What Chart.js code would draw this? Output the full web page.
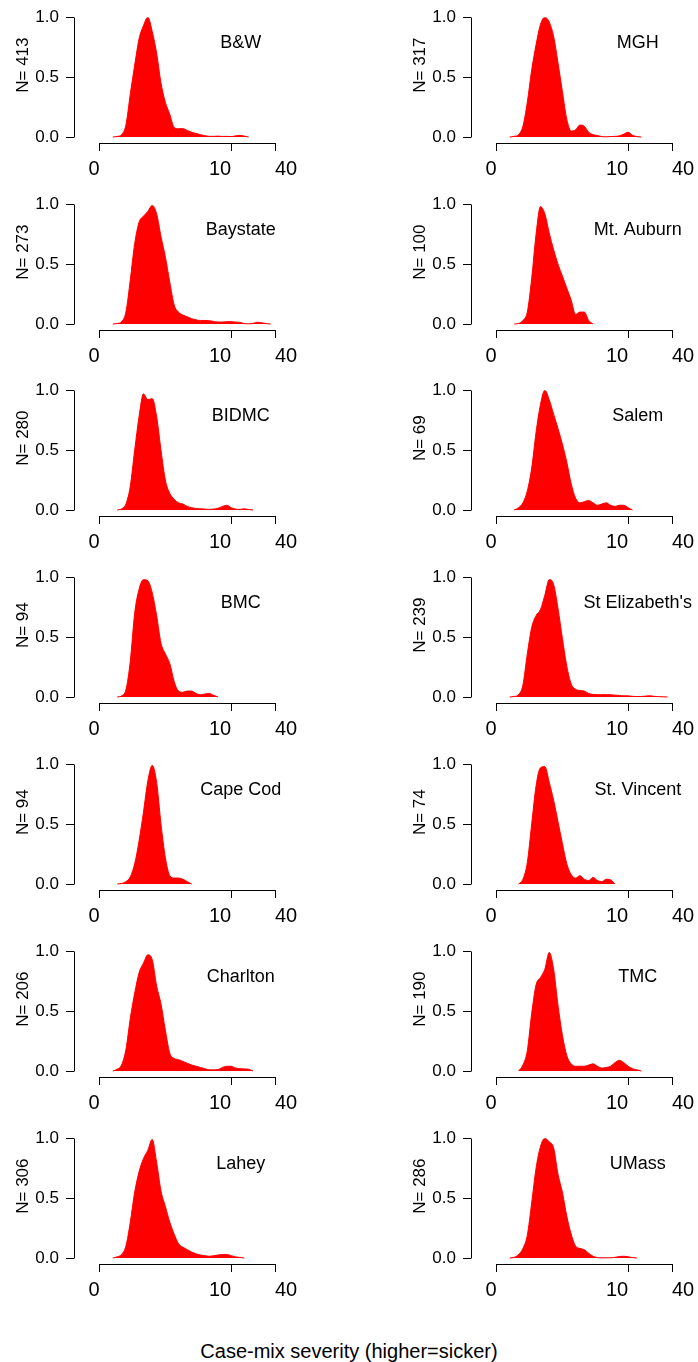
<!DOCTYPE html>
<html>
<head>
<meta charset="utf-8">
<title>Case-mix severity by hospital</title>
<script src="https://cdn.jsdelivr.net/npm/chart.js@4.4.1/dist/chart.umd.min.js"></script>
<style>
  html, body { margin: 0; padding: 0; background: #fff; }
  #wrap { position: relative; width: 698px; height: 1362px; overflow: hidden; }
  .panel { position: absolute; }
  #xtitle {
    position: absolute; left: 0; width: 698px; top: 1340px;
    text-align: center; line-height: 20px;
    font: 20px "Liberation Sans", Arial, sans-serif; color: #000;
  }
</style>
</head>
<body>
<div id="wrap">
  <div id="xtitle">Case-mix severity (higher=sicker)</div>
</div>
<script>
// axis units: the original x axis is compressed (0 -> 0, 10 -> 3, 40 -> 4)
const severityPos = [0.3, 0.4, 0.5, 0.6, 0.7, 0.8, 0.9, 1.0, 1.1, 1.2,
  1.3, 1.4, 1.5, 1.6, 1.7, 1.8, 1.9, 2.0, 2.1, 2.2,
  2.3, 2.4, 2.5, 2.6, 2.7, 2.8, 2.9, 3.0, 3.1, 3.2,
  3.3, 3.4, 3.5, 3.6, 3.7, 3.8, 3.9, 4.0];
const xTickPos = [0, 3, 4];
const xTickLabels = ['0', '10', '40'];
const yTickPos = [0, 0.5, 1];
const yTickLabels = ['0.0', '0.5', '1.0'];

const hospitals = ['B&W', 'Baystate', 'BIDMC', 'BMC', 'Cape Cod', 'Charlton', 'Lahey',
  'MGH', 'Mt. Auburn', 'Salem', "St Elizabeth's", 'St. Vincent', 'TMC', 'UMass'];
const caseCounts = [413, 273, 280, 94, 94, 206, 306, 317, 100, 69, 239, 74, 190, 286];

// scaled densities (peak = 1), one value per severityPos, null = outside the curve
const dBW = [0, 0.005, 0.02, 0.1, 0.36, 0.6, 0.82, 0.93, 1.0, 0.88,
  0.7, 0.45, 0.29, 0.19, 0.08, 0.07, 0.07, 0.055, 0.04, 0.03,
  0.02, 0.012, 0.006, 0.006, 0.008, 0.005, 0.006, 0.004, 0.01, 0.014,
  0.008, 0, null, null, null, null, null, null];
const dBaystate = [0, 0.005, 0.02, 0.1, 0.37, 0.67, 0.85, 0.9, 0.94, 0.99,
  0.92, 0.73, 0.56, 0.35, 0.16, 0.1, 0.075, 0.06, 0.045, 0.035,
  0.03, 0.03, 0.028, 0.022, 0.017, 0.017, 0.02, 0.02, 0.017, 0.014,
  0.004, 0.002, 0.006, 0.015, 0.01, 0.004, 0, null];
const dBIDMC = [null, 0, 0.01, 0.05, 0.2, 0.5, 0.78, 0.97, 0.92, 0.93,
  0.78, 0.5, 0.25, 0.14, 0.09, 0.06, 0.05, 0.03, 0.02, 0.012,
  0.01, 0.008, 0.006, 0.008, 0.015, 0.03, 0.04, 0.02, 0.008, 0.006,
  0.01, 0.005, 0, null, null, null, null, null];
const dBMC = [null, 0, 0.01, 0.06, 0.3, 0.7, 0.9, 0.98, 0.97, 0.87,
  0.68, 0.45, 0.36, 0.28, 0.13, 0.05, 0.04, 0.05, 0.05, 0.03,
  0.02, 0.025, 0.03, 0.015, 0, null, null, null, null, null,
  null, null, null, null, null, null, null, null];
const dCapeCod = [null, 0, 0.005, 0.02, 0.06, 0.17, 0.36, 0.6, 0.86, 0.99,
  0.85, 0.5, 0.22, 0.07, 0.05, 0.05, 0.04, 0.02, 0, null,
  null, null, null, null, null, null, null, null, null, null,
  null, null, null, null, null, null, null, null];
const dCharlton = [0, 0.015, 0.05, 0.18, 0.44, 0.65, 0.82, 0.9, 0.97, 0.93,
  0.71, 0.56, 0.34, 0.15, 0.105, 0.095, 0.08, 0.065, 0.05, 0.04,
  0.03, 0.02, 0.01, 0.01, 0.012, 0.03, 0.04, 0.04, 0.025, 0.02,
  0.018, 0.015, 0, null, null, null, null, null];
const dLahey = [0, 0.01, 0.03, 0.1, 0.3, 0.55, 0.72, 0.83, 0.9, 0.99,
  0.8, 0.56, 0.43, 0.3, 0.2, 0.12, 0.09, 0.07, 0.05, 0.035,
  0.025, 0.02, 0.015, 0.02, 0.025, 0.03, 0.03, 0.02, 0.01, 0.005,
  0, null, null, null, null, null, null, null];
const dMGH = [0, 0.006, 0.02, 0.09, 0.29, 0.56, 0.77, 0.94, 1.0, 0.96,
  0.84, 0.62, 0.38, 0.15, 0.05, 0.06, 0.1, 0.09, 0.04, 0.02,
  0.013, 0.004, 0.002, 0.004, 0.006, 0.01, 0.025, 0.04, 0.015, 0.004,
  0, null, null, null, null, null, null, null];
const dMtAuburn = [null, 0, 0.005, 0.03, 0.1, 0.38, 0.75, 0.98, 0.92, 0.76,
  0.62, 0.5, 0.4, 0.3, 0.2, 0.08, 0.1, 0.1, 0.03, 0,
  null, null, null, null, null, null, null, null, null, null,
  null, null, null, null, null, null, null, null];
const dSalem = [null, 0, 0.02, 0.06, 0.16, 0.35, 0.65, 0.88, 1.0, 0.92,
  0.8, 0.68, 0.55, 0.4, 0.22, 0.1, 0.06, 0.07, 0.08, 0.06,
  0.04, 0.05, 0.06, 0.04, 0.03, 0.04, 0.04, 0.02, 0, null,
  null, null, null, null, null, null, null, null];
const dStElizabeths = [0, 0.005, 0.02, 0.1, 0.36, 0.58, 0.68, 0.73, 0.85, 0.98,
  0.94, 0.74, 0.49, 0.26, 0.11, 0.065, 0.055, 0.05, 0.03, 0.022,
  0.02, 0.02, 0.02, 0.02, 0.016, 0.014, 0.01, 0.01, 0.006, 0.004,
  0.005, 0.008, 0.01, 0.006, 0.003, 0.002, 0, null];
const dStVincent = [null, null, 0, 0.04, 0.18, 0.5, 0.82, 0.97, 0.98, 0.85,
  0.7, 0.52, 0.34, 0.17, 0.08, 0.05, 0.07, 0.04, 0.03, 0.055,
  0.03, 0.02, 0.04, 0.035, 0, null, null, null, null, null,
  null, null, null, null, null, null, null, null];
const dTMC = [null, null, 0, 0.05, 0.17, 0.48, 0.72, 0.78, 0.85, 0.99,
  0.85, 0.55, 0.3, 0.13, 0.06, 0.04, 0.04, 0.04, 0.05, 0.06,
  0.04, 0.025, 0.03, 0.04, 0.07, 0.09, 0.07, 0.04, 0.02, 0.01,
  0, null, null, null, null, null, null, null];
const dUMass = [0, 0.006, 0.03, 0.08, 0.19, 0.46, 0.75, 0.93, 1.0, 0.97,
  0.92, 0.7, 0.55, 0.35, 0.2, 0.1, 0.08, 0.07, 0.04, 0.015,
  0.004, 0.002, 0.002, 0.002, 0.006, 0.013, 0.015, 0.01, 0.004, 0,
  null, null, null, null, null, null, null, null];

const densities = [dBW, dBaystate, dBIDMC, dBMC, dCapeCod, dCharlton, dLahey,
  dMGH, dMtAuburn, dSalem, dStElizabeths, dStVincent, dTMC, dUMass];

const FONT = '"Liberation Sans", Arial, sans-serif';
Chart.defaults.font.family = FONT;
Chart.defaults.color = '#000';

// align like Chart.js does for 1px lines
function crisp(p) {
  return Math.round(p - 0.5) + 0.5;
}

// R-style detached axes, tick labels and panel text
const panelDecor = {
  id: 'panelDecor',
  afterDraw(chart, args, opts) {
    const { ctx, chartArea } = chart;
    const xs = chart.scales.x;
    const ys = chart.scales.y;
    ctx.save();
    ctx.strokeStyle = '#000';
    ctx.lineWidth = 1;
    ctx.beginPath();
    const ax = crisp(chartArea.left);
    ctx.moveTo(ax, crisp(ys.getPixelForValue(yTickPos[0])));
    ctx.lineTo(ax, crisp(ys.getPixelForValue(yTickPos[yTickPos.length - 1])));
    const ay = crisp(chartArea.bottom);
    ctx.moveTo(crisp(xs.getPixelForValue(xTickPos[0])), ay);
    ctx.lineTo(crisp(xs.getPixelForValue(xTickPos[xTickPos.length - 1])), ay);
    ctx.stroke();

    ctx.fillStyle = '#000';
    ctx.textBaseline = 'alphabetic';
    ctx.font = '20px ' + FONT;
    xTickPos.forEach((v, k) => {
      ctx.textAlign = k === xTickPos.length - 1 ? 'left' : 'right';
      ctx.fillText(xTickLabels[k], xs.getPixelForValue(v), chartArea.bottom + 32);
    });

    ctx.font = '18px ' + FONT;
    ctx.textAlign = 'center';
    ctx.fillText(opts.name, xs.getPixelForValue(3.22), ys.getPixelForValue(1) + 31);

    ctx.translate(28, ys.getPixelForValue(0.6));
    ctx.rotate(-Math.PI / 2);
    ctx.font = '17px ' + FONT;
    ctx.textAlign = 'center';
    ctx.fillText('N= ' + opts.n, 0, 0);
    ctx.restore();
  }
};

const colLeft = [0, 397];
const rowTop = [0, 187, 373, 560, 747, 934, 1121];
const wrap = document.getElementById('wrap');

hospitals.forEach((name, i) => {
  const col = i < 7 ? 0 : 1;
  const row = i % 7;
  const cv = document.createElement('canvas');
  cv.className = 'panel';
  cv.width = 301;
  cv.height = 187;
  cv.style.width = '301px';
  cv.style.height = '187px';
  cv.style.left = colLeft[col] + 'px';
  cv.style.top = rowTop[row] + 'px';
  wrap.appendChild(cv);

  const pts = severityPos.map((u, k) => ({ x: u, y: densities[i][k] }));

  new Chart(cv, {
    type: 'line',
    data: {
      datasets: [{
        data: pts,
        borderColor: '#ff0000',
        backgroundColor: '#ff0000',
        borderWidth: 1,
        fill: 'origin',
        pointRadius: 0,
        cubicInterpolationMode: 'monotone',
        spanGaps: false
      }]
    },
    options: {
      responsive: false,
      animation: false,
      devicePixelRatio: 1,
      layout: { padding: { top: 16, right: 26, left: 0, bottom: 0 } },
      plugins: {
        legend: { display: false },
        tooltip: { enabled: false },
        panelDecor: { name: name, n: caseCounts[i] }
      },
      scales: {
        x: {
          type: 'linear',
          min: -0.584,
          max: 4,
          border: { display: false },
          grid: { drawOnChartArea: false, color: '#000', tickLength: 8 },
          ticks: { display: false },
          afterBuildTicks: s => { s.ticks = xTickPos.map(v => ({ value: v })); },
          afterFit: s => { s.height = 44; }
        },
        y: {
          type: 'linear',
          min: -0.0496,
          max: 1,
          border: { display: false },
          grid: { drawOnChartArea: false, color: '#000', tickLength: 8 },
          ticks: {
            font: { size: 17 },
            color: '#000',
            padding: 7,
            callback: (v, k) => yTickLabels[k]
          },
          afterBuildTicks: s => { s.ticks = yTickPos.map(v => ({ value: v })); },
          afterFit: s => { s.width = 74; }
        }
      }
    },
    plugins: [panelDecor]
  });
});
</script>
</body>
</html>
